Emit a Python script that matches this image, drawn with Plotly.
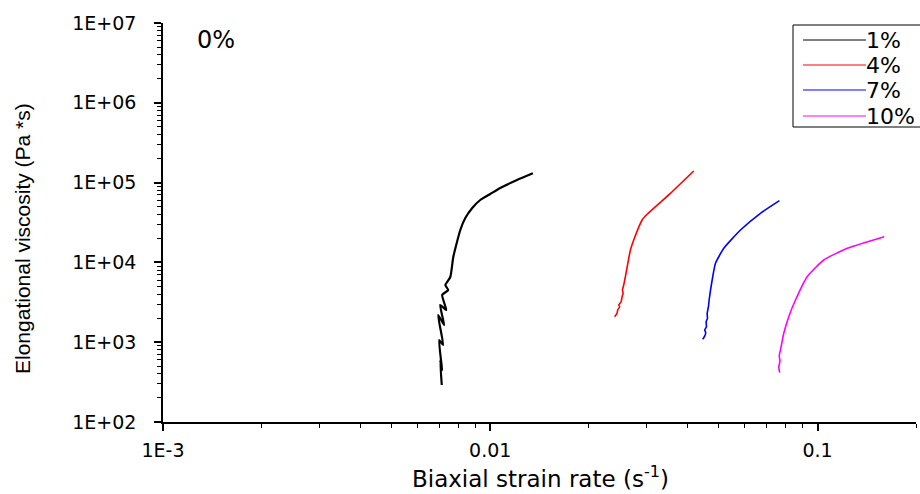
import plotly.graph_objects as go

# ---- data ----
rate_1 = [0.00711, 0.00703, 0.00713, 0.00698, 0.00718, 0.00693, 0.00723, 0.00703,
          0.00734, 0.00713, 0.00744, 0.00729, 0.00755, 0.00771, 0.00810, 0.00839,
          0.00881, 0.00932, 0.0100, 0.01073, 0.01207, 0.0135]
visc_1 = [291, 598, 448, 1066, 922, 2192, 1643, 2925, 2533, 3904, 4509, 5211,
          6562, 11685, 25470, 35980, 48050, 60530, 71940, 85550, 107800, 130800]

rate_4 = [0.02399, 0.02441, 0.02451, 0.02486, 0.02469, 0.02511, 0.02529, 0.02547,
          0.02535, 0.02558, 0.02576, 0.02588, 0.02681, 0.02744, 0.02911, 0.03015,
          0.03553, 0.04185]
visc_4 = [2087, 2302, 2533, 2786, 2925, 3217, 3718, 4101, 4509, 5211, 6017, 6618,
          14300, 19090, 33990, 40070, 73410, 139800]

rate_7 = [0.04459, 0.04513, 0.04555, 0.04523, 0.04578, 0.04568, 0.04610, 0.04601,
          0.04642, 0.04665, 0.04766, 0.04878, 0.05171, 0.05815, 0.06694, 0.07651]
visc_7 = [1087, 1172, 1315, 1422, 1564, 1807, 1993, 2302, 2786, 3379, 6017, 9743,
          15020, 25470, 41240, 59330]

rate_10 = [0.07667, 0.07614, 0.07680, 0.07640, 0.07706, 0.07888, 0.08169, 0.08564,
           0.09299, 0.1045, 0.1233, 0.1600]
visc_10 = [415, 490, 580, 680, 799, 1293, 2087, 3379, 6618, 10715, 15020, 20990]

series_names = ["1%", "4%", "7%", "10%"]
series_colors = ["#000000", "#ff0000", "#0000ff", "#ff00ff"]

y_tickvals = [1e2, 1e3, 1e4, 1e5, 1e6, 1e7]
y_ticktext = ["1E+02", "1E+03", "1E+04", "1E+05", "1E+06", "1E+07"]
x_tickvals = [1e-3, 1e-2, 1e-1]
x_ticktext = ["1E-3", "0.01", "0.1"]

FONT = "DejaVu Sans, Liberation Sans, sans-serif"
FONT_V = "Liberation Sans, Arial, sans-serif"

fig = go.Figure()
data = [(rate_1, visc_1, 2.2), (rate_4, visc_4, 1.6), (rate_7, visc_7, 1.6), (rate_10, visc_10, 1.6)]
for (xs, ys, w), name, col in zip(data, series_names, series_colors):
    fig.add_trace(go.Scatter(x=xs, y=ys, mode="lines", name=name,
                             line=dict(color=col, width=w, shape="spline", smoothing=0.5),
                             showlegend=False))

fig.update_layout(
    width=920, height=494,
    margin=dict(l=163, r=4, t=23, b=72),
    paper_bgcolor="white", plot_bgcolor="white",
    font=dict(family=FONT, color="black"),
    xaxis=dict(type="log", range=[-3, -0.699], showgrid=False, zeroline=False,
               showline=True, linecolor="black", linewidth=1.5,
               ticks="outside", ticklen=7, tickwidth=1.5, tickcolor="black",
               tickvals=x_tickvals, ticktext=x_ticktext,
               tickfont=dict(size=19, family=FONT),
               minor=dict(ticks="outside", ticklen=4, tickwidth=1.2, tickcolor="black", dtick="D1"),
               ticklabelstandoff=3),
    yaxis=dict(type="log", range=[2, 7], showgrid=False, zeroline=False,
               showline=True, linecolor="black", linewidth=1.5,
               ticks="outside", ticklen=7, tickwidth=1.5, tickcolor="black",
               tickvals=y_tickvals, ticktext=y_ticktext,
               tickfont=dict(size=19, family=FONT),
               minor=dict(ticks="outside", ticklen=4, tickwidth=1.2, tickcolor="black", dtick="D1"),
               ticklabelstandoff=14),
)

def px_x(p):
    return (p - 163) / 753

def px_y(p):
    return (422 - p) / 399

# axis titles and panel label
fig.add_annotation(xref="paper", yref="paper", x=px_x(540), y=px_y(477),
                   text="Biaxial strain rate (s<sup>-1</sup>)", showarrow=False,
                   font=dict(size=23, family=FONT), xanchor="center", yanchor="middle")
fig.add_annotation(xref="paper", yref="paper", x=px_x(22), y=px_y(239),
                   text="Elongational viscosity (Pa *s)", showarrow=False, textangle=-90,
                   font=dict(size=21, family=FONT_V), xanchor="center", yanchor="middle")
fig.add_annotation(xref="paper", yref="paper", x=px_x(195), y=px_y(40),
                   text="0%", showarrow=False, font=dict(size=24, family=FONT),
                   xanchor="left", yanchor="middle")

# custom legend box
fig.add_shape(type="rect", xref="paper", yref="paper",
              x0=px_x(793), x1=px_x(940), y0=px_y(127), y1=px_y(25),
              line=dict(color="black", width=1), fillcolor="white", layer="above")
rows = [40, 65, 90, 116]
for name, col, ry in zip(series_names, series_colors, rows):
    fig.add_shape(type="line", xref="paper", yref="paper",
                  x0=px_x(803), x1=px_x(866), y0=px_y(ry), y1=px_y(ry),
                  line=dict(color=col, width=1), layer="above")
    fig.add_annotation(xref="paper", yref="paper", x=px_x(864), y=px_y(ry),
                       text=name, showarrow=False, font=dict(size=22, family=FONT),
                       xanchor="left", yanchor="middle")

fig.write_html("out.html")
